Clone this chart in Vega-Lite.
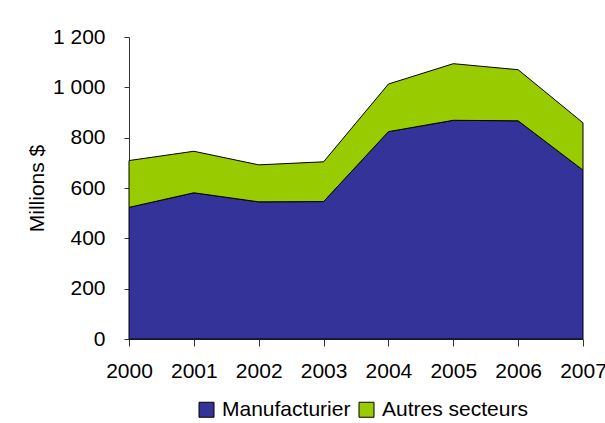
{
  "$schema": "https://vega.github.io/schema/vega-lite/v6.json",
  "width": 454,
  "height": 302,
  "autosize": "none",
  "padding": {"left": 129, "top": 37, "right": 22, "bottom": 84},
  "background": "white",
  "config": {
    "view": {"stroke": null},
    "font": "Liberation Sans",
    "axis": {
      "labelFont": "Liberation Sans",
      "labelFontSize": 21,
      "labelColor": "black",
      "titleFont": "Liberation Sans",
      "titleFontSize": 21,
      "titleFontWeight": "normal",
      "titleColor": "black",
      "domainColor": "#333333",
      "tickColor": "#333333",
      "grid": false
    },
    "legend": {
      "labelFont": "Liberation Sans",
      "labelFontSize": 21,
      "labelColor": "black"
    }
  },
  "data": {
    "values": [
      {"annee": 2000, "secteur": "Manufacturier", "valeur": 523},
      {"annee": 2001, "secteur": "Manufacturier", "valeur": 581},
      {"annee": 2002, "secteur": "Manufacturier", "valeur": 545},
      {"annee": 2003, "secteur": "Manufacturier", "valeur": 546},
      {"annee": 2004, "secteur": "Manufacturier", "valeur": 824},
      {"annee": 2005, "secteur": "Manufacturier", "valeur": 869},
      {"annee": 2006, "secteur": "Manufacturier", "valeur": 867},
      {"annee": 2007, "secteur": "Manufacturier", "valeur": 671},
      {"annee": 2000, "secteur": "Autres secteurs", "valeur": 186},
      {"annee": 2001, "secteur": "Autres secteurs", "valeur": 165},
      {"annee": 2002, "secteur": "Autres secteurs", "valeur": 147},
      {"annee": 2003, "secteur": "Autres secteurs", "valeur": 158},
      {"annee": 2004, "secteur": "Autres secteurs", "valeur": 189},
      {"annee": 2005, "secteur": "Autres secteurs", "valeur": 225},
      {"annee": 2006, "secteur": "Autres secteurs", "valeur": 203},
      {"annee": 2007, "secteur": "Autres secteurs", "valeur": 188}
    ]
  },
  "mark": {"type": "area", "stroke": "black", "strokeWidth": 1, "opacity": 1, "fillOpacity": 1},
  "encoding": {
    "x": {
      "field": "annee",
      "type": "quantitative",
      "scale": {"domain": [2000, 2007], "nice": false, "zero": false},
      "axis": {
        "title": null,
        "values": [2000, 2001, 2002, 2003, 2004, 2005, 2006, 2007],
        "format": "d",
        "tickSize": 7,
        "labelPadding": 14,
        "labelFlush": false,
        "labelOverlap": false
      }
    },
    "y": {
      "field": "valeur",
      "type": "quantitative",
      "stack": "zero",
      "scale": {"domain": [0, 1200], "nice": false},
      "axis": {
        "title": "Millions $",
        "values": [0, 200, 400, 600, 800, 1000, 1200],
        "labelExpr": "replace(format(datum.value, ','), ',', ' ')",
        "tickSize": 5,
        "labelPadding": 19,
        "titlePadding": 5
      }
    },
    "color": {
      "field": "secteur",
      "type": "nominal",
      "sort": ["Manufacturier", "Autres secteurs"],
      "scale": {"domain": ["Manufacturier", "Autres secteurs"], "range": ["#333399", "#99CC00"]},
      "legend": {
        "title": null,
        "orient": "none",
        "direction": "horizontal",
        "legendX": 67,
        "legendY": 362,
        "symbolType": "square",
        "symbolSize": 225,
        "symbolStrokeColor": "black",
        "symbolStrokeWidth": 1,
        "symbolOpacity": 1,
        "labelOffset": 5,
        "columnPadding": 5,
        "padding": 0
      }
    },
    "order": {"field": "secteur", "sort": "descending"}
  }
}
